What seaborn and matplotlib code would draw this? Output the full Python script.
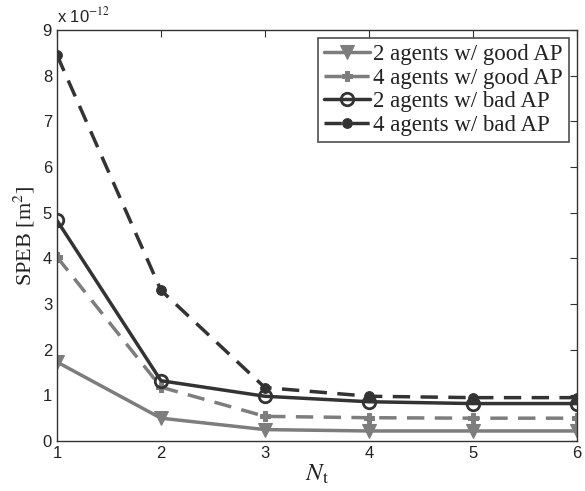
import numpy as np
import pandas as pd
import seaborn as sns
from matplotlib import pyplot as plt

# values (in units of 1e-12 m^2)
n_t = [1, 2, 3, 4, 5, 6]
good_2 = [1.73, 0.50, 0.25, 0.22, 0.22, 0.22]
good_4 = [4.03, 1.18, 0.54, 0.51, 0.50, 0.50]
bad_2 = [4.83, 1.32, 0.98, 0.86, 0.82, 0.82]
bad_4 = [8.45, 3.30, 1.17, 0.98, 0.95, 0.95]
labels = ['2 agents w/ good AP', '4 agents w/ good AP',
          '2 agents w/ bad AP', '4 agents w/ bad AP']

sns.set_style('white')
plt.rcParams['font.family'] = ['Liberation Sans', 'DejaVu Sans']
plt.rcParams['mathtext.fontset'] = 'stix'

gray = '#7d7d7d'
dark = '#333333'
styles = [
    dict(color=gray, linestyle='-', marker='v', markersize=10, markerfacecolor=gray, markeredgecolor=gray),
    dict(color=gray, linestyle='--', marker='P', markersize=7, markerfacecolor=gray, markeredgecolor=gray),
    dict(color=dark, linestyle='-', marker='o', markersize=9, markerfacecolor='none', markeredgecolor=dark, markeredgewidth=2),
    dict(color=dark, linestyle='--', marker='o', markersize=7, markerfacecolor=dark, markeredgecolor=dark),
]

df = pd.DataFrame({'Nt': n_t, labels[0]: good_2, labels[1]: good_4,
                   labels[2]: bad_2, labels[3]: bad_4})

fig = plt.figure(figsize=(5.85, 4.91), dpi=100)
ax = fig.add_axes([0.0974, 0.1018, 0.8886, 0.8372])
for lab, st in zip(labels, styles):
    ls = st.pop('linestyle')
    sns.lineplot(data=df, x='Nt', y=lab, ax=ax, label=lab, linewidth=2.5, **st)
    ax.lines[-1].set_linestyle(ls)
    if ls == '--':
        ax.lines[-1].set_dashes([5, 3])

ax.set_xlim(1, 6)
ax.set_ylim(0, 9)
ax.set_xticks(n_t)
ax.set_yticks(range(10))
ax.tick_params(direction='in', top=True, right=True, labelsize=12, length=5, colors='#333333', labelcolor='#222222')
for sp in ax.spines.values():
    sp.set_color('#333333')
    sp.set_linewidth(1)
ax.set_xlabel(r'$N_{\mathrm{t}}$', fontsize=18, color='#222222', labelpad=1)
ax.set_ylabel(r'SPEB [m$^2$]', fontsize=16, family='Liberation Serif', color='#222222', labelpad=4)
ax.text(0.0, 1.012, r'x 10$^{-12}$', transform=ax.transAxes, fontsize=12, color='#222222', va='bottom')

leg = ax.legend(loc='upper right', frameon=True, fancybox=False,
                edgecolor='#222222', handlelength=2.0, handletextpad=0.15,
                borderpad=0.25, labelspacing=0.12, borderaxespad=0.35,
                prop={'family': 'Liberation Serif', 'size': 16.5})
leg.get_frame().set_linewidth(1.2)
for line in leg.get_lines():
    line.set_linewidth(2.5)
for t in leg.get_texts():
    t.set_color('#222222')

plt.savefig('out.png', dpi=100)
